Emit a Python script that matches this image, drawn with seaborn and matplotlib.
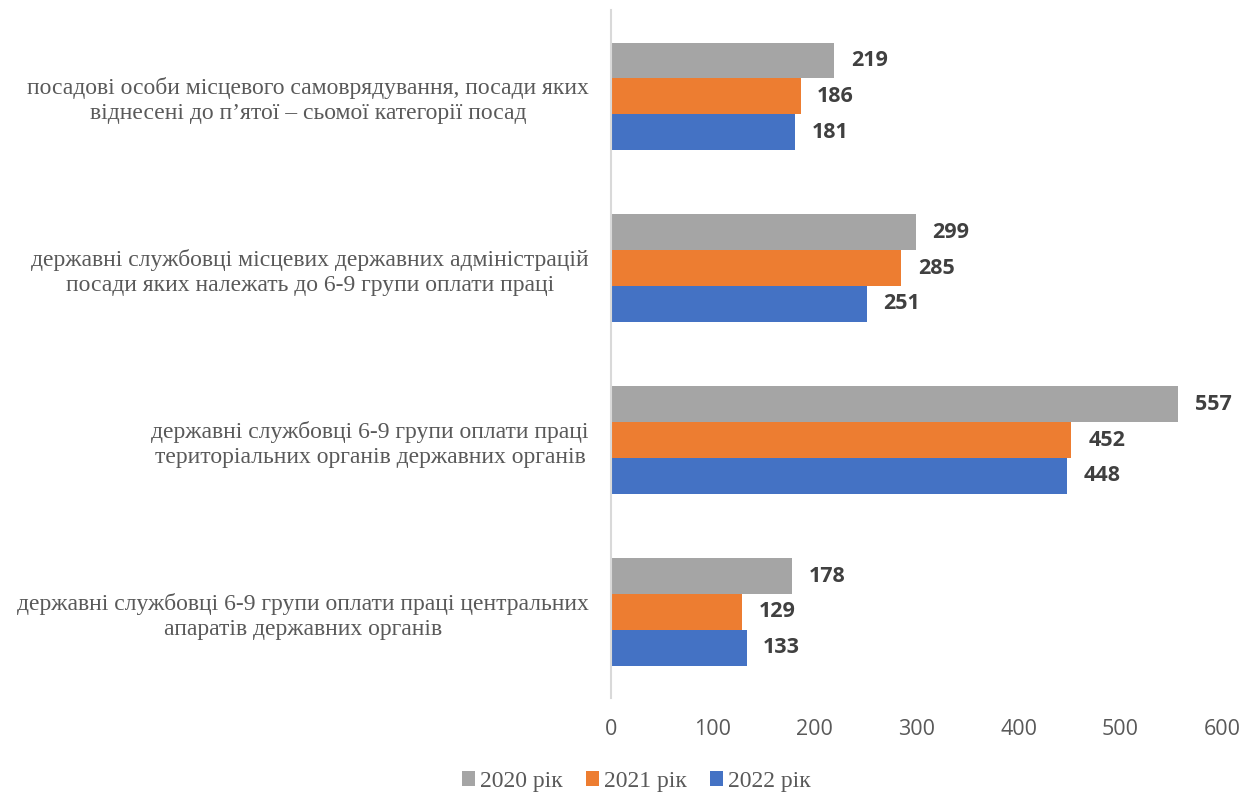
import matplotlib
matplotlib.use("Agg")
import matplotlib.pyplot as plt
import seaborn as sns
import pandas as pd

categories = [
    "посадові особи місцевого самоврядування, посади яких\nвіднесені до п’ятої – сьомої категорії посад",
    "державні службовці місцевих державних адміністрацій\nпосади яких належать до 6-9 групи оплати праці",
    "державні службовці 6-9 групи оплати праці\nтериторіальних органів державних органів",
    "державні службовці 6-9 групи оплати праці центральних\nапаратів державних органів",
]
years = ["2020 рік", "2021 рік", "2022 рік"]
values_2020 = [219, 299, 557, 178]
values_2021 = [186, 285, 452, 129]
values_2022 = [181, 251, 448, 133]
x_ticks = [0, 100, 200, 300, 400, 500, 600]

colors = ["#a5a5a5", "#ed7d31", "#4472c4"]

rows = []
for yr, vals in zip(years, [values_2020, values_2021, values_2022]):
    for c, v in zip(categories, vals):
        rows.append({"category": c, "year": yr, "value": v})
df = pd.DataFrame(rows)

sns.set_theme(style="white")
plt.rcParams["font.family"] = ["DejaVu Sans"]

fig = plt.figure(figsize=(12.6, 7.94), dpi=100)
ax = fig.add_axes([0.485, 0.121, 0.485, 0.866])

sns.barplot(data=df, y="category", x="value", hue="year", order=categories,
            hue_order=years, palette=colors, orient="h", width=0.625,
            linewidth=0, saturation=1, ax=ax, legend=True)

for cont in ax.containers:
    ax.bar_label(cont, padding=12, fontsize=15.5, fontweight="bold",
                 color="#404040", family="Open Sans")

ax.set_xlim(0, 600)
ax.set_xticks(x_ticks)
ax.set_xticklabels([str(t) for t in x_ticks], family="Open Sans", fontsize=15.5, color="#595959")
ax.set_yticks(range(len(categories)))
ax.set_yticklabels(categories, family="Liberation Serif", fontsize=17, color="#595959",
                   multialignment="center", linespacing=1.25)
ax.set_xlabel("")
ax.set_ylabel("")
ax.tick_params(axis="x", length=0, pad=15)
ax.tick_params(axis="y", length=0, pad=16)
for s in ["top", "right", "bottom"]:
    ax.spines[s].set_visible(False)
ax.spines["left"].set_color("#d9d9d9")
ax.spines["left"].set_linewidth(1.5)
ax.grid(False)

handles, labels = ax.get_legend_handles_labels()
ax.get_legend().remove()
fig.legend(handles, labels, loc="lower center", bbox_to_anchor=(0.505, -0.024), ncol=3,
           frameon=False, prop={"family": "Liberation Serif", "size": 17},
           labelcolor="#595959", handlelength=0.55, handleheight=0.55,
           handletextpad=0.2, columnspacing=1.0)

fig.savefig("out.png", dpi=100)
